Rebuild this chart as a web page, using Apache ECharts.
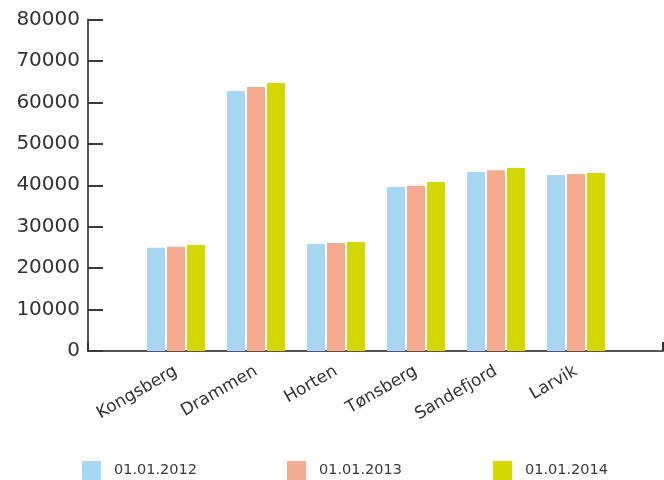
<!DOCTYPE html>
<html>
<head>
<meta charset="utf-8">
<script src="https://cdn.jsdelivr.net/npm/echarts@6/dist/echarts.min.js"></script>
<style>
  html, body { margin: 0; padding: 0; background: #ffffff; }
  #chart { width: 664px; height: 480px; }
</style>
</head>
<body>
<div id="chart"></div>
<script>
// Population per municipality at three reference dates
const categories = ['Kongsberg', 'Drammen', 'Horten', 'Tønsberg', 'Sandefjord', 'Larvik'];
const seriesNames = ['01.01.2012', '01.01.2013', '01.01.2014'];
const values2012 = [24900, 62750, 25800, 39600, 43200, 42450];
const values2013 = [25150, 63700, 26050, 39850, 43650, 42700];
const values2014 = [25600, 64700, 26300, 40800, 44150, 42950];
const yTicks = [0, 10000, 20000, 30000, 40000, 50000, 60000, 70000, 80000];

const colors = ['#a8d7f4', '#f4ab91', '#d4d800'];
const FONT = 'DejaVu Sans';
const AXIS = '#555555';

const chart = echarts.init(document.getElementById('chart'), null, { renderer: 'canvas' });

const seriesValues = [values2012, values2013, values2014];
const legendLefts = [82, 287, 493];

chart.setOption({
  animation: false,
  backgroundColor: '#ffffff',
  textStyle: { fontFamily: FONT },
  grid: [
    // frame grid: carries the value axis and the full-width baseline
    { left: 88, right: 1, top: 19.5, bottom: 129 },
    // plotting grid for the bars
    { left: 136, width: 480, top: 19.5, bottom: 129 }
  ],
  legend: seriesNames.map((name, i) => ({
    data: [name],
    left: legendLefts[i],
    top: 461,
    itemWidth: 19,
    itemHeight: 19,
    itemGap: 0,
    icon: 'rect',
    textStyle: { fontFamily: FONT, fontSize: 14.5, color: '#3a3a3a', padding: [1, 0, 0, 8] },
    padding: 0
  })),
  xAxis: [
    {
      gridIndex: 0,
      type: 'category',
      data: [''],
      boundaryGap: true,
      axisLine: { lineStyle: { color: AXIS, width: 2 } },
      axisTick: { show: true, inside: true, length: 9, lineStyle: { color: '#333333', width: 2 } },
      axisLabel: { show: false },
      splitLine: { show: false }
    },
    {
      gridIndex: 1,
      type: 'category',
      data: categories,
      axisLine: { show: false },
      axisTick: { show: false },
      axisLabel: {
        rotate: 30,
        margin: 19,
        interval: 0,
        fontFamily: FONT,
        fontSize: 17,
        color: '#333333'
      }
    }
  ],
  yAxis: [
    {
      gridIndex: 0,
      type: 'value',
      min: yTicks[0],
      max: yTicks[yTicks.length - 1],
      interval: yTicks[1] - yTicks[0],
      axisLine: { show: true, lineStyle: { color: AXIS, width: 2 } },
      axisTick: { show: true, inside: true, length: 15, lineStyle: { color: '#3a3a3a', width: 2 } },
      axisLabel: {
        margin: 8,
        fontFamily: FONT,
        fontSize: 20,
        color: '#333333',
        formatter: (v) => String(v)
      },
      splitLine: { show: false }
    },
    {
      gridIndex: 1,
      type: 'value',
      min: yTicks[0],
      max: yTicks[yTicks.length - 1],
      interval: yTicks[1] - yTicks[0],
      show: false
    }
  ],
  series: seriesNames.map((name, i) => ({
    name: name,
    type: 'bar',
    xAxisIndex: 1,
    yAxisIndex: 1,
    data: seriesValues[i],
    barWidth: 18,
    barGap: '11.1%',
    itemStyle: { color: colors[i] }
  }))
});
</script>
</body>
</html>
